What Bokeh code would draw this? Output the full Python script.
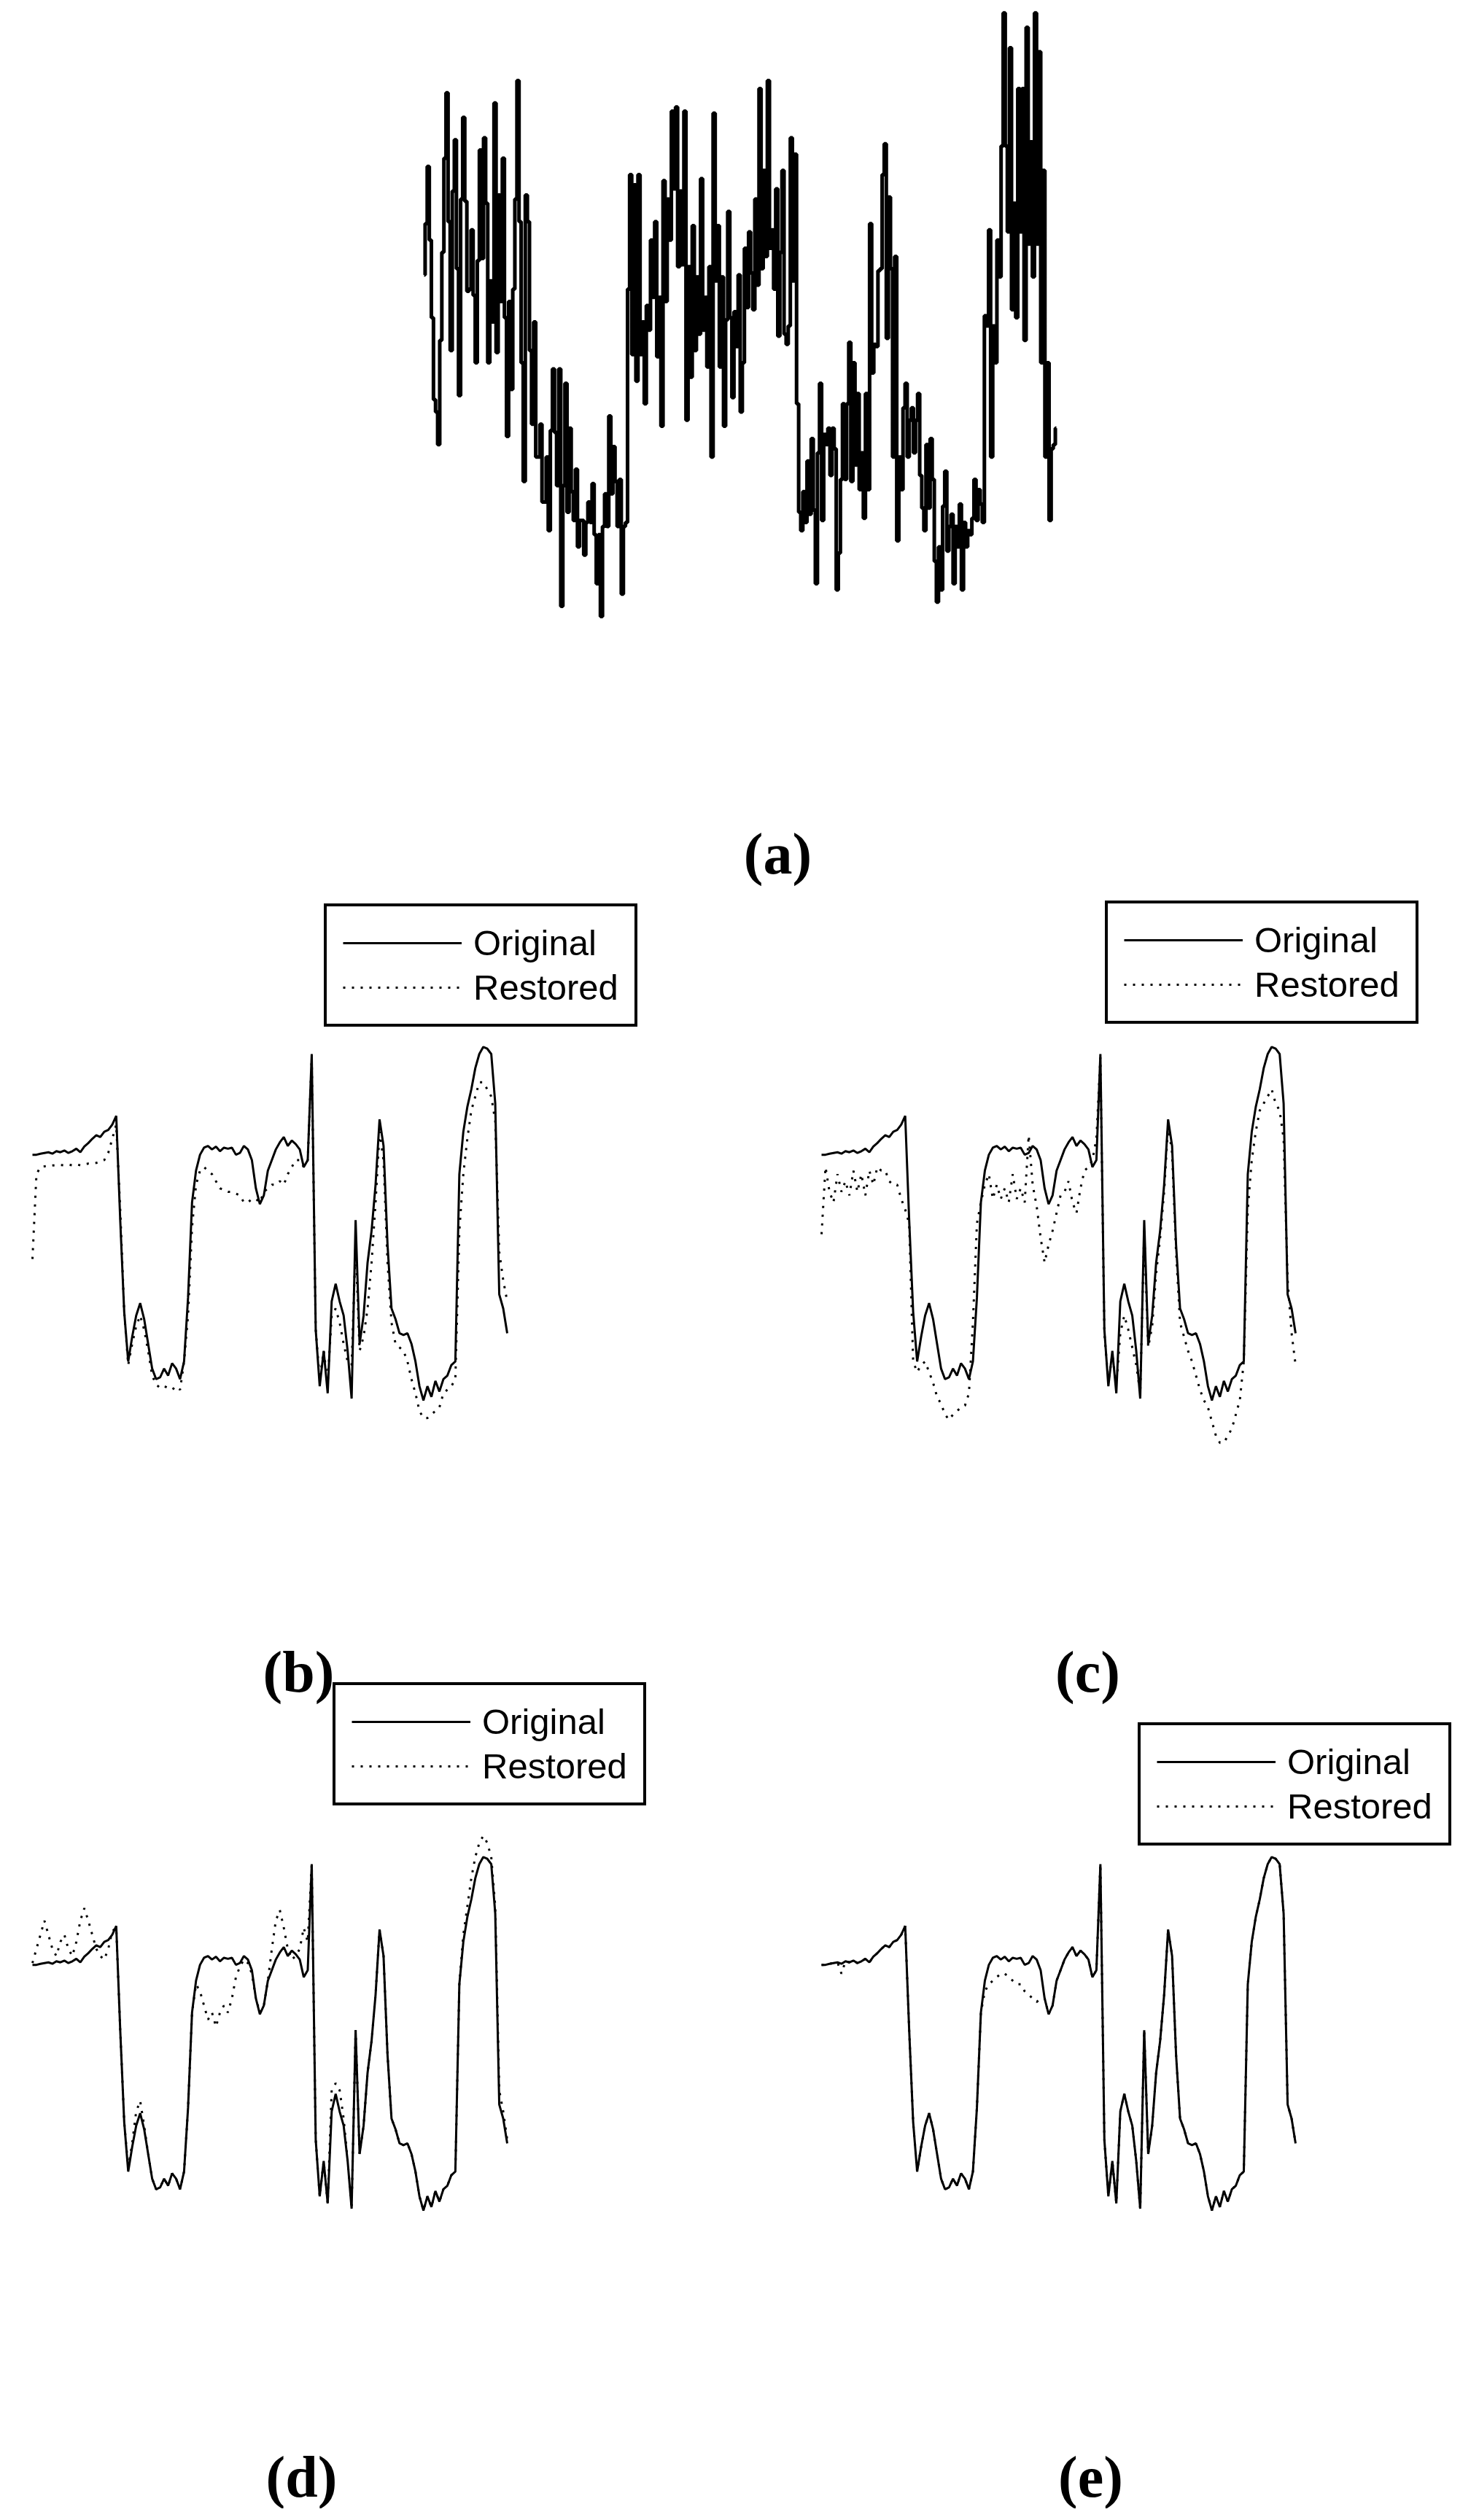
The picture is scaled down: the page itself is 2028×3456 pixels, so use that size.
from bokeh.plotting import figure
from bokeh.models import Range1d, ColumnDataSource, Legend, LegendItem
from bokeh.core.properties import value
from bokeh.embed import file_html
from bokeh.resources import INLINE

# ---------------- data ----------------
# (a) noisy observed signal, arbitrary amplitude units
noisy_a = [
    91.5, 104, 118, 100, 81, 61, 58, 50, 75.5, 97, 120, 136, 104.5, 73, 112, 124.5, 93, 62, 110, 130,
    109.5, 87.5, 88, 102.5, 86.5, 70, 95, 122, 95.5, 125, 109, 70, 90, 80, 133.5, 72.5, 111, 85, 120, 81,
    52, 85, 63.5, 88, 110, 139, 104.5, 70, 41, 111, 104.5, 73, 55, 80, 47, 47, 55, 36, 36, 47, 29, 53.5,
    68.5, 53, 40, 68.5, 10.5, 40, 65, 33.5, 54, 38.5, 31.5, 44, 25, 31.5, 31.5, 23, 31, 36, 31, 40.5, 28,
    16, 28, 8, 30, 38, 30, 57, 38, 49.5, 41, 30, 41.5, 13.5, 30, 31, 88, 116,
    72, 113.5, 65.5, 116, 72, 80, 60, 84, 78, 100, 86, 104.5, 71.5, 86, 54.5, 114.5, 85, 110, 100, 131.5,
    112.5, 132.5, 93.5, 112, 94, 131.5, 56, 93.5, 66.5, 103.5, 73, 91, 77, 115, 78, 86, 69, 93.5, 47, 131,
    90, 103.5, 69, 91, 54.5, 80.5, 107, 81, 61.5, 82.5, 74, 91.5, 58, 70, 98, 83.5, 102, 92,
    83, 110, 89, 137, 93, 117, 96, 139, 98, 102.5, 88, 112.5, 76.5, 97, 117, 77, 74.5, 79,
    125, 90, 121, 60, 33.5, 29, 38.5, 31, 46, 33, 51.5, 34, 16, 48, 65, 31.5, 52.5, 50, 54, 42.5,
    54, 49, 14.5, 23.5, 41.5,
    60, 41.5, 60, 75, 41, 70, 45, 62.5, 39, 48, 32, 62.5, 39, 104, 67.5, 74.5, 74, 92.5,
    93, 116, 123.5, 76, 110.5, 93, 47, 96, 26.5, 47, 39, 59, 65, 47, 56, 59, 48, 56, 62.5, 42.5,
    34.5, 29, 50, 34.5, 51.5, 41.5, 21.5, 11.5, 25, 14.5, 35, 43.5, 24, 30, 33, 16, 30, 25,
    35.5, 14.5, 31, 25, 29, 28, 32, 41.5, 31.5, 39, 35.5, 31, 81.5, 79, 102.5, 47, 79, 70, 100,
    91, 123, 155.5, 123, 102, 147, 83, 109, 81, 137, 102, 137, 75.5, 152, 99, 124, 91, 155.5, 99, 146,
    70, 117, 47, 70, 31.5, 49, 50, 54,
]

# (b)-(e) original signal (same in every panel)
original = [
    75.5, 75.5, 75.8, 76.0, 76.2, 75.8, 76.5, 76.2, 76.7, 76.0, 76.5, 77.2, 76.2, 77.8, 78.8, 80.0, 81.0, 80.5, 82.0, 82.5,
    84.0, 86.5, 57.0, 31.0, 17.0, 24.0, 30.0, 33.5, 29.0, 22.0, 15.0, 12.0, 12.5, 15.0, 13.0, 16.5, 15.0, 12.0, 17.0, 35.0,
    62.0, 71.0, 75.5, 77.5, 78.0, 77.0, 77.8, 76.5, 77.5, 77.2, 77.5, 75.5, 76.0, 78.0, 77.0, 74.0, 66.0, 61.5, 64.0, 71.0,
    74.0, 77.0, 79.0, 80.5, 78.0, 79.5, 78.5, 77.0, 72.0, 74.0, 104.0, 26.0, 10.0, 20.0, 8.0, 34.0, 39.0, 34.0, 30.0, 20.0,
    6.5, 57.0, 22.0, 30.0, 45.0, 54.0, 67.0, 85.5, 78.0, 50.0, 32.0, 29.0, 25.0, 24.5, 25.0, 22.0, 17.0, 10.0, 6.0, 10.0,
    7.0, 11.5, 8.5, 12.0, 13.0, 16.0, 17.0, 70.0, 82.0, 89.0, 94.0, 100.0, 104.0, 106.0, 105.5, 104.0, 90.0, 36.0, 32.0, 25.0,
]

restored_b = [
    46, 70, 72, 72.2, 72.4, 72.5, 72.5, 72.6, 72.5, 72.7, 72.5, 72.8, 72.5, 72.8, 73, 73, 73.2, 73.5, 74, 76,
    80, 84, 60, 31, 16, 22, 27, 30, 26, 20, 13, 10.5, 9.5, 10, 9.5, 9, 10, 9, 17, 30,
    55, 67, 71, 72, 71, 70, 68, 66, 65.5, 65, 65, 64.5, 64, 62, 62, 63, 63, 62, 65, 66,
    67, 67, 68, 67, 70, 72, 74, 74, 72, 74, 103, 26, 12, 20, 11, 30, 32, 28, 22, 17,
    16, 50, 20, 24, 32, 45, 62, 82, 74, 45, 28, 22, 21, 20, 17, 12, 8, 3, 1, 1,
    2, 3, 4, 8, 9, 10, 12, 54, 70, 80, 88, 92, 96, 96, 94, 92, 85, 48, 40, 34,
]

restored_c = [
    53, 72, 65, 62, 70, 65, 68, 64, 71, 65, 70, 64, 71, 67, 72, 71, 71, 68, 67, 67,
    63, 60, 56, 17, 14, 16, 17, 14, 11, 7, 5, 2, 0.5, 2, 3, 4, 4.5, 8, 28, 56,
    62, 67, 70, 63, 67, 63, 66, 62, 70, 63, 66, 62, 81, 67, 61, 52, 45, 50, 54, 59,
    64, 65, 68, 62, 59, 66, 71, 72, 74, 80, 103, 25, 11, 19, 10, 25, 30, 26, 21, 16,
    8, 54, 21, 27, 42, 52, 65, 84, 76, 48, 28, 24, 20, 17, 13, 9, 6, 4, 0, -4,
    -6, -6, -4, -2, 2, 6, 17, 60, 74, 82, 88, 90, 92, 94, 90, 88, 80, 40, 25, 16,
]

restored_d = [
    76, 80, 84, 88, 84, 80, 78, 82, 84, 80, 78, 82, 88, 91.5, 88, 84, 80, 78, 77, 80,
    85, 86, 57, 31, 18, 25, 34, 37, 30, 22, 15, 12, 12.5, 15, 13, 16.5, 15, 12, 17, 35,
    62, 70, 68, 64, 60, 62, 58, 62, 64, 62, 66, 72, 75, 77, 76, 73, 66, 62, 64, 71,
    80, 88, 91, 86, 80, 77, 78, 80, 86, 82, 104, 26, 10, 20, 8, 40, 42, 40, 32, 20,
    6.5, 57, 22, 30, 45, 54, 67, 85.5, 78, 50, 32, 29, 25, 24.5, 25, 22, 17, 10, 6, 10,
    7, 11.5, 8.5, 12, 13, 16, 17, 70, 84, 92, 100, 106, 110, 112, 110, 106, 92, 40, 34, 26,
]

restored_e = [
    75.5, 75.5, 75.8, 76, 76.2, 73, 76.5, 76.2, 76.7, 76, 76.5, 77.2, 76.2, 77.8, 78.8, 80, 81, 80.5, 82, 82.5,
    84, 86.5, 57, 31, 17, 24, 30, 33.5, 29, 22, 15, 12, 12.5, 15, 13, 16.5, 15, 12, 17, 35,
    62, 68, 70, 71, 72, 73, 73, 72, 71, 70, 70, 68, 67, 66, 65, 66, 66, 61.5, 64, 71,
    74, 77, 79, 80.5, 78, 79.5, 78.5, 77, 72, 74, 104, 26, 10, 20, 8, 34, 39, 34, 30, 20,
    6.5, 57, 22, 30, 45, 54, 67, 85.5, 78, 50, 32, 29, 25, 24.5, 25, 22, 17, 10, 6, 10,
    7, 11.5, 8.5, 12, 13, 16, 17, 70, 82, 89, 94, 100, 104, 106, 105.5, 104, 90, 36, 32, 25,
]

panel_labels = ["(a)", "(b)", "(c)", "(d)", "(e)"]
legend_labels = ["Original", "Restored"]

# ---------------- layout helpers ----------------
W, H = 2012, 3440
M = 8  # page margin


def xr(d0, d1, X0, X1):
    """Range mapping data d0 -> page x X0 and d1 -> page x X1."""
    s = (X1 - X0) / (d1 - d0)
    start = d0 - (X0 - M) / s
    return Range1d(start, start + W / s)


def yr(a0, a1, Y0, Y1):
    """Range mapping value a0 -> page y Y0 (top-down) and a1 -> Y1."""
    b0 = H - (Y0 - M)
    b1 = H - (Y1 - M)
    s = (b1 - b0) / (a1 - a0)
    start = a0 - b0 / s
    return Range1d(start, start + H / s)


p = figure(width=W, height=H, x_range=Range1d(0, W), y_range=Range1d(0, H),
           x_axis_type=None, y_axis_type=None, toolbar_location=None,
           output_backend="svg", min_border=0, outline_line_color=None,
           background_fill_color="white", border_fill_color="white")

na = len(noisy_a) - 1
no = len(original) - 1
p.extra_x_ranges = {
    "a": xr(0, na, 589, 1456),
    "b": xr(0, no, 52, 703),
    "c": xr(0, no, 1134, 1784),
    "d": xr(0, no, 52, 703),
    "e": xr(0, no, 1134, 1784),
}
DY = 1111
p.extra_y_ranges = {
    "a": yr(155.5, 8, 25.3, 853),
    "b": yr(106, 6, 1443.3, 1928),
    "c": yr(106, 6, 1443.3, 1928),
    "d": yr(106, 6, 1443.3 + DY, 1928 + DY),
    "e": yr(106, 6, 1443.3 + DY, 1928 + DY),
}

# panel (a): noisy signal, drawn as a staircase like the sampled original
src_a = ColumnDataSource(dict(x=list(range(len(noisy_a))), y=noisy_a))
p.step("x", "y", source=src_a, x_range_name="a", y_range_name="a", mode="center",
       line_color="black", line_width=5)

legend_boxes = {"b": (452, 1416), "c": (1523, 1412), "d": (464, 2484), "e": (1568, 2539)}
restored = {"b": restored_b, "c": restored_c, "d": restored_d, "e": restored_e}

for key in ["b", "c", "d", "e"]:
    src_o = ColumnDataSource(dict(x=list(range(len(original))), y=original))
    rest = restored[key]
    src_r = ColumnDataSource(dict(x=list(range(len(rest))), y=rest))
    r_rest = p.line("x", "y", source=src_r, x_range_name=key, y_range_name=key,
                    line_color="black", line_width=3, line_dash="3 9")
    r_orig = p.line("x", "y", source=src_o, x_range_name=key, y_range_name=key,
                    line_color="black", line_width=3)
    left, bottom = legend_boxes[key]
    leg = Legend(
        items=[LegendItem(label=legend_labels[0], renderers=[r_orig]),
               LegendItem(label=legend_labels[1], renderers=[r_rest])],
        location=(left - M, H - (bottom - M)),
        margin=0, padding=22, spacing=5,
        glyph_width=163, glyph_height=20, label_standoff=16, label_height=20,
        label_text_font="Liberation Sans", label_text_font_size="49px",
        label_text_color="black",
        border_line_color="black", border_line_width=4, border_line_alpha=1.0,
        background_fill_color="white", background_fill_alpha=1.0,
    )
    p.add_layout(leg)

# panel letters (centre x, baseline y on the page)
label_pos_x = [1074, 417, 1499, 421, 1503]
label_pos_y = [1178, 2300, 2300, 3404, 3404]
src_l = ColumnDataSource(dict(
    x=[v - M for v in label_pos_x],
    y=[H - (v - M) for v in label_pos_y],
    t=panel_labels))
p.text("x", "y", text="t", source=src_l, text_align="center",
       text_baseline="alphabetic", text_font=value("Liberation Serif"),
       text_font_style="bold", text_font_size="80px", text_color="black")

open("out.html", "w").write(file_html(p, INLINE, title="Signal restoration"))
